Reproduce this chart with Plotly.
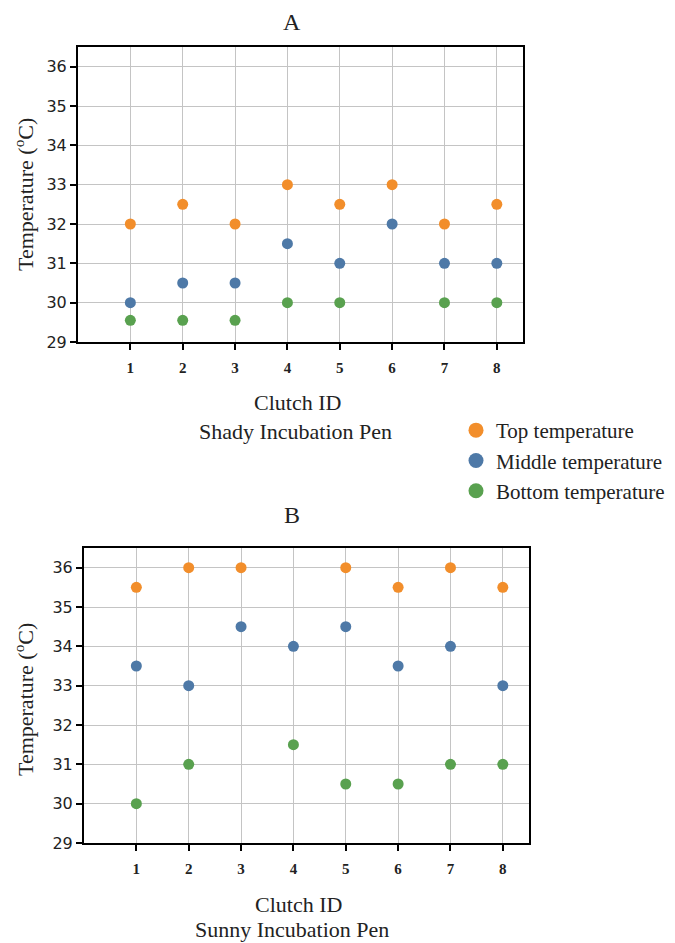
import plotly.graph_objects as go

clutch_ids = [1, 2, 3, 4, 5, 6, 7, 8]
y_ticks = [29, 30, 31, 32, 33, 34, 35, 36]

# Panel A - Shady Incubation Pen
shady_top = [32, 32.5, 32, 33, 32.5, 33, 32, 32.5]
shady_middle = [30, 30.5, 30.5, 31.5, 31, 32, 31, 31]
shady_bottom = [29.55, 29.55, 29.55, 30, 30, None, 30, 30]

# Panel B - Sunny Incubation Pen
sunny_top = [35.5, 36, 36, None, 36, 35.5, 36, 35.5]
sunny_middle = [33.5, 33, 34.5, 34, 34.5, 33.5, 34, 33]
sunny_bottom = [30, 31, None, 31.5, 30.5, 30.5, 31, 31]

series_names = ["Top temperature", "Middle temperature", "Bottom temperature"]
colors = ["#f28e2b", "#4e79a7", "#59a14f"]

# the page body has an 8px margin; figure sized so it ends at the window edge
OFF = 8
W, H = 675 - OFF, 943 - OFF
SERIF = "Liberation Serif"

def px(x):
    return (x - OFF) / W

def py(y):
    return 1 - (y - OFF) / H

fig = go.Figure()

for vals, name, col in zip([shady_top, shady_middle, shady_bottom], series_names, colors):
    fig.add_trace(go.Scatter(x=clutch_ids, y=vals, mode="markers", name=name,
                             marker=dict(color=col, size=11), showlegend=False,
                             xaxis="x", yaxis="y"))
for vals, name, col in zip([sunny_top, sunny_middle, sunny_bottom], series_names, colors):
    fig.add_trace(go.Scatter(x=clutch_ids, y=vals, mode="markers", name=name,
                             marker=dict(color=col, size=11), showlegend=False,
                             xaxis="x2", yaxis="y2"))
# legend entries
for name, col in zip(series_names, colors):
    fig.add_trace(go.Scatter(x=[None], y=[None], mode="markers", name=name,
                             marker=dict(color=col, size=15), showlegend=True,
                             xaxis="x", yaxis="y"))

def xax(domain, anchor):
    return dict(domain=domain, anchor=anchor, range=[0, 8.5], tickvals=clutch_ids,
                showgrid=True, gridcolor="#c4c4c4", gridwidth=1, zeroline=False,
                showline=True, linecolor="black", linewidth=2, mirror=True,
                ticks="outside", ticklen=6, tickwidth=1.5, tickcolor="black",
                ticklabelstandoff=5, automargin=False,
                tickfont=dict(family=SERIF, size=15, color="#222", weight="bold"))

def yax(domain, anchor):
    return dict(domain=domain, anchor=anchor, range=[29, 36.5], tickvals=y_ticks,
                showgrid=True, gridcolor="#c4c4c4", gridwidth=1, zeroline=False,
                showline=True, linecolor="black", linewidth=2, mirror=True,
                ticks="outside", ticklen=6, tickwidth=1.5, tickcolor="black",
                automargin=False,
                tickfont=dict(family="DejaVu Sans", size=16, color="#222"))

fig.update_layout(
    width=W, height=H,
    margin=dict(l=0, r=0, t=0, b=0, autoexpand=False),
    paper_bgcolor="white", plot_bgcolor="white",
    xaxis=xax([px(78), px(523)], "y"),
    yaxis=yax([py(342), py(47)], "x"),
    xaxis2=xax([px(84), px(529)], "y2"),
    yaxis2=yax([py(843), py(548)], "x2"),
    legend=dict(x=px(456), y=py(410), xanchor="left", yanchor="top",
                font=dict(family=SERIF, size=21, color="#222"),
                bgcolor="rgba(0,0,0,0)", tracegroupgap=0),
    showlegend=True,
)

def txt(text, x, y, size=22, angle=0):
    fig.add_annotation(text=text, x=px(x), y=py(y), xref="paper", yref="paper",
                       showarrow=False, textangle=angle, xanchor="center", yanchor="middle",
                       font=dict(family=SERIF, size=size, color="#222"))

txt("A", 292, 22, size=24)
txt("Clutch ID", 297, 402)
txt("Shady Incubation Pen", 295, 431)
txt("Temperature (<sup>o</sup>C)", 24, 195, angle=-90)
txt("B", 292, 515, size=24)
txt("Clutch ID", 298, 904)
txt("Sunny Incubation Pen", 292, 929)
txt("Temperature (<sup>o</sup>C)", 24, 700, angle=-90)

fig.write_html("out.html")
